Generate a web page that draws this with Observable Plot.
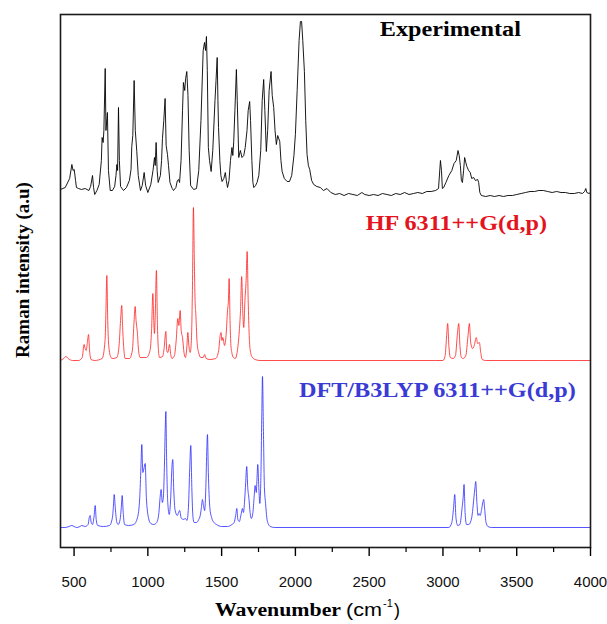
<!DOCTYPE html>
<html><head><meta charset="utf-8">
<script src="https://cdn.jsdelivr.net/npm/d3@7"></script>
<script src="https://cdn.jsdelivr.net/npm/@observablehq/plot@0.6"></script>
<style>
html,body{margin:0;padding:0;background:#fff;}
</style></head><body><div id="chart"></div>
<script>
// ---- Data (wavenumber in cm^-1, Raman intensity in a.u.) ----
const expWave = [408,440,470,485,493,501,510,516,530,550,575,600,612,625,632,640,655,670,685,690,697,702,711,716,726,733,745,760,775,784,790,795,801,807,815,835,855,875,886,891,898,907,915,925,935,950,962,975,985,1000,1020,1035,1045,1050,1056,1063,1070,1085,1093,1099,1108,1117,1124,1133,1140,1150,1165,1174,1190,1200,1208,1215,1225,1235,1241,1250,1256,1264,1272,1280,1290,1310,1330,1345,1360,1375,1384,1391,1397,1403,1410,1418,1429,1440,1455,1462,1470,1475,1479,1488,1495,1503,1515,1525,1532,1540,1550,1560,1570,1576,1582,1590,1600,1606,1616,1627,1638,1650,1660,1672,1680,1690,1696,1705,1712,1718,1730,1740,1752,1765,1775,1785,1793,1803,1812,1822,1835,1843,1853,1862,1871,1880,1894,1902,1910,1925,1944,1960,1975,1990,2000,2012,2025,2034,2042,2050,2061,2070,2079,2088,2097,2110,2124,2145,2169,2190,2214,2240,2270,2300,2330,2360,2390,2420,2450,2470,2500,2530,2560,2590,2620,2650,2680,2710,2740,2770,2800,2830,2860,2890,2920,2950,2970,2983,2990,2996,3005,3020,3040,3060,3075,3090,3102,3110,3118,3125,3132,3140,3147,3155,3162,3174,3185,3195,3208,3220,3235,3242,3250,3260,3290,3320,3350,3380,3410,3440,3470,3500,3530,3560,3590,3620,3650,3680,3710,3740,3770,3800,3830,3860,3890,3920,3945,3960,3968,3975,3990,4000];
const expInt = [1,3,12,26,20,21,10,3,2,1,2,0,4,15,3,-4,0,6,30,53,48,60,122,60,78,20,0,0,4,15,26,20,83,30,4,0,3,10,21,44,55,110,60,39,15,0,5,18,5,-2,6,20,33,25,48,20,8,15,30,52,70,92,45,36,25,8,2,0,3,10,11,8,30,80,108,100,112,119,95,40,5,1,2,20,70,140,148,140,154,120,43,30,19,40,90,110,133,90,63,30,15,9,12,18,10,3,10,30,43,35,49,80,121,90,33,40,33,35,43,60,80,89,70,30,8,3,5,8,15,40,90,111,80,39,60,100,119,95,83,60,46,55,49,30,19,12,9,9,15,35,56,100,150,169,169,150,119,70,36,25,21,10,6,4,3,0,2,-2,-4,-3,-5,-3,-4,-5,-2,-4,-5,-4,-5,-3,-4,-5,-3,-4,-2,-4,-3,-2,-3,-1,-1,0,2,30,20,2,3,8,15,20,27,30,40,35,25,10,8,20,33,28,24,20,18,12,13,10,11,8,-2,-5,-6,-5,-6,-5,-6,-5,-5,-4,-3,-2,-1,-1,0,0,-1,-2,-1,-2,-2,-3,-3,-2,-3,-1,2,-2,-3,-2];

const hfWave = [408,430,444,460,490,530,555,568,575,582,590,598,605,615,640,690,710,716,722,728,735,750,763,790,805,815,823,830,838,846,875,895,905,914,920,929,937,948,990,1015,1025,1034,1040,1045,1050,1058,1065,1072,1079,1100,1110,1122,1128,1135,1147,1155,1163,1180,1192,1203,1210,1219,1226,1235,1245,1255,1265,1271,1278,1287,1295,1302,1309,1315,1320,1325,1333,1344,1360,1375,1385,1395,1420,1460,1480,1490,1496,1502,1508,1520,1530,1540,1546,1551,1557,1563,1569,1580,1592,1605,1620,1628,1636,1643,1650,1658,1666,1673,1680,1687,1693,1705,1727,1760,2950,3000,3015,3025,3032,3040,3050,3068,3085,3097,3107,3115,3125,3137,3155,3170,3179,3188,3201,3212,3226,3235,3247,3256,3266,3290,4000];
const hfInt = [0,2,4,2,0,0,3,16,12,10,18,26,10,1,0,2,20,50,85,40,15,3,2,3,15,40,55,30,10,2,2,10,35,54,40,28,10,3,3,10,30,67,40,27,45,90,35,10,3,4,12,29,10,8,16,6,2,5,20,42,35,50,30,23,8,3,15,28,15,8,20,70,153,100,60,47,20,8,3,3,6,2,1,2,10,25,28,20,23,15,25,50,60,82,40,15,8,3,2,8,30,50,84,50,33,60,80,109,60,25,11,4,1,0,0,0,5,25,37,15,3,2,5,25,37,15,3,2,5,25,37,18,12,15,23,17,18,8,1,0,0];

const dftWave = [408,440,465,485,500,518,540,552,575,595,603,609,616,625,636,643,650,660,700,740,760,766,772,779,790,799,812,820,826,833,842,870,905,930,945,953,959,966,975,982,990,1004,1020,1040,1060,1075,1083,1090,1098,1105,1112,1118,1122,1127,1135,1145,1155,1163,1169,1175,1185,1200,1208,1216,1225,1240,1255,1265,1275,1284,1291,1298,1306,1314,1330,1345,1355,1363,1370,1377,1385,1393,1400,1404,1410,1420,1432,1448,1465,1500,1540,1570,1585,1595,1603,1610,1620,1633,1641,1648,1655,1663,1670,1677,1685,1693,1701,1712,1720,1727,1735,1740,1745,1752,1759,1766,1772,1777,1783,1790,1798,1806,1815,1830,1860,3000,3040,3060,3072,3080,3088,3100,3115,3130,3137,3143,3150,3160,3175,3195,3210,3217,3222,3230,3238,3245,3252,3262,3270,3276,3283,3292,3305,3330,4000];
const dftInt = [0,0,1,2,1,0,1,2,1,3,10,12,5,3,12,22,8,2,1,2,10,20,33,20,5,3,8,20,32,15,3,2,3,10,30,60,83,55,60,64,30,10,4,3,5,15,30,38,25,30,60,100,116,70,25,13,30,60,68,40,17,12,15,17,10,8,9,7,20,60,82,40,10,5,5,8,12,20,28,22,17,40,80,93,55,20,10,5,3,1,1,3,5,12,19,8,6,14,19,15,25,45,61,40,29,15,9,15,30,42,35,50,63,40,24,50,110,151,100,40,24,10,4,1,0,0,0,5,20,33,10,2,3,20,30,43,15,3,3,10,30,40,46,25,12,14,12,18,25,28,18,5,1,0,0];

const seriesNames = ["Experimental", "HF 6311++G(d,p)", "DFT/B3LYP 6311++G(d,p)"];
const xTicks = [500, 1000, 1500, 2000, 2500, 3000, 3500, 4000];
const xMinorTicks = [750, 1250, 1750, 2250, 2750, 3250, 3750];

// ---- Layout / style (not data) ----
const seriesWaves = [expWave, hfWave, dftWave];
const seriesInts = [expInt, hfInt, dftInt];
const stackOffset = [357, 187, 20];            // vertical stacking of spectra
const lineColors = ["#000000", "#ff2020", "#2a2aff"];
const lineWidths = [0.9, 0.8, 0.8];
const labelColors = ["#000000", "#e3141e", "#3a3ad4"];
const labelPos = [[3050, 518], [3091, 324], [2962, 157]];

const rows = [];
seriesNames.forEach((s, i) => {
  seriesWaves[i].forEach((w, j) => rows.push({s, w, y: seriesInts[i][j] + stackOffset[i]}));
});
const labels = seriesNames.map((s, i) => ({s, x: labelPos[i][0], y: labelPos[i][1], c: labelColors[i]}));

const plot = Plot.plot({
  width: 607, height: 624,
  marginLeft: 60, marginRight: 17, marginTop: 14, marginBottom: 77,
  style: {fontFamily: "'Liberation Sans', Arial, sans-serif", background: "#fff"},
  x: {domain: [408, 4000]},
  y: {domain: [0, 533], axis: null},
  marks: [
    ...seriesNames.map((s, i) => Plot.line(rows.filter(r => r.s === s), {
      x: "w", y: "y", stroke: lineColors[i], strokeWidth: lineWidths[i], curve: i === 0 ? "linear" : "monotone-x"
    })),
    Plot.text(labels, {x: "x", y: "y", text: "s", fill: "c", fontSize: 20, fontWeight: "bold",
      fontFamily: "'Liberation Serif', 'Times New Roman', serif", textAnchor: "middle", className: "series-label"}),
    Plot.frame({stroke: "#1a1a1a", strokeWidth: 1.6}),
    Plot.axisX({ticks: xTicks, tickSize: 9, tickPadding: 20, tickFormat: d => String(d), fontSize: 15,
      strokeWidth: 1.4, label: null, fill: "#111"}),
    Plot.axisX({ticks: xMinorTicks, tickSize: 5, tickFormat: () => "", strokeWidth: 1.2, label: null})
  ]
});
document.getElementById("chart").appendChild(plot);

// horizontal stretch of serif labels as in the reference
d3.select(plot).selectAll(".series-label text").each(function() {
  const w = this.getComputedTextLength();
  this.setAttribute("textLength", w * 1.21);
  this.setAttribute("lengthAdjust", "spacingAndGlyphs");
});

const svg = d3.select(plot);
const serif = "'Liberation Serif', 'Times New Roman', serif";
const sans = "'Liberation Sans', Arial, sans-serif";
// y-axis title
svg.append("text")
  .attr("transform", "translate(22,270) rotate(-90)")
  .attr("text-anchor", "middle").attr("dy", "0.35em")
  .attr("font-family", serif).attr("font-weight", "bold").attr("font-size", 19)
  .attr("fill", "#000")
  .text("Raman intensity (a.u)");
// x-axis title
svg.append("text").attr("x", 215).attr("y", 616).attr("text-anchor", "start")
  .attr("font-family", serif).attr("font-weight", "bold").attr("font-size", 18).attr("fill", "#000")
  .attr("textLength", 126).attr("lengthAdjust", "spacingAndGlyphs")
  .text("Wavenumber");
svg.append("text").attr("x", 346).attr("y", 616).attr("text-anchor", "start")
  .attr("font-family", sans).attr("font-size", 18).attr("fill", "#000")
  .attr("textLength", 36).attr("lengthAdjust", "spacingAndGlyphs")
  .text("(cm");
svg.append("text").attr("x", 383).attr("y", 607).attr("text-anchor", "start")
  .attr("font-family", sans).attr("font-size", 11).attr("fill", "#000")
  .text("-1");
svg.append("text").attr("x", 394).attr("y", 616).attr("text-anchor", "start")
  .attr("font-family", sans).attr("font-size", 18).attr("fill", "#000")
  .text(")");
</script>
</body></html>
